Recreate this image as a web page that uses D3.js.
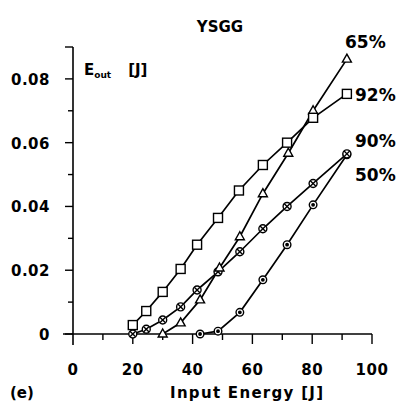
<!DOCTYPE html>
<html><head><meta charset="utf-8">
<script src="https://cdn.jsdelivr.net/npm/d3@7"></script>
<style>
html,body{margin:0;padding:0;background:#fff;}
svg{display:block;}
text{font-family:"DejaVu Sans",sans-serif;font-weight:bold;fill:#000;}
</style></head>
<body>
<script>
const x92 = [20, 24.5, 30, 36, 41.5, 48.5, 55.5, 63.5, 71.6, 80.3, 91.6];
const y92 = [0.0028, 0.0072, 0.0132, 0.0204, 0.028, 0.0364, 0.045, 0.053, 0.060, 0.0678, 0.0753];
const x65 = [30, 36, 42.5, 49, 55.8, 63.5, 72, 80.3, 91.6];
const y65 = [0, 0.0035, 0.0107, 0.0207, 0.0305, 0.044, 0.0567, 0.070, 0.0862];
const x90 = [20, 24.5, 30, 36, 41.5, 48.5, 55.8, 63.5, 71.6, 80.3, 91.6];
const y90 = [0, 0.0015, 0.0044, 0.0085, 0.0138, 0.0195, 0.0258, 0.033, 0.040, 0.0472, 0.0565];
const x50 = [42.5, 48.5, 55.8, 63.5, 71.6, 80.3, 91.6];
const y50 = [0, 0.0009, 0.0068, 0.017, 0.028, 0.0405, 0.0562];
const seriesNames = ["65%", "92%", "90%", "50%"];
const xTicks = [0, 20, 40, 60, 80, 100];
const yTicks = [0, 0.02, 0.04, 0.06, 0.08];
const yTickLabels = ["0", "0.02", "0.04", "0.06", "0.08"];

const W = 400, H = 405;
const svg = d3.select("body").append("svg").attr("width", W).attr("height", H);
const x = d3.scaleLinear().domain([0, 100]).range([73, 372]);
const y = d3.scaleLinear().domain([0, 0.09]).range([334, 47]);

// Y axis
svg.append("line").attr("x1", x(0)).attr("x2", x(0)).attr("y1", y(0.09)).attr("y2", y(0) + 11)
  .attr("stroke", "#000").attr("stroke-width", 1.6);
d3.range(0, 10).forEach(i => {
  const v = i * 0.01;
  const major = i % 2 === 0 || i === 9;
  svg.append("line").attr("x1", x(0) - (major ? 8 : 5)).attr("x2", x(0))
    .attr("y1", y(v)).attr("y2", y(v)).attr("stroke", "#000").attr("stroke-width", 1.4);
});
yTicks.forEach((v, i) => {
  svg.append("text").attr("x", 50).attr("y", y(v) + 6).attr("text-anchor", "end")
    .attr("font-size", 15).attr("letter-spacing", 0.5).text(yTickLabels[i]);
});

// X axis
svg.append("line").attr("x1", x(0) - 10).attr("x2", x(100)).attr("y1", y(0)).attr("y2", y(0))
  .attr("stroke", "#000").attr("stroke-width", 1.6);
d3.range(1, 11).forEach(i => {
  const v = i * 10;
  const major = i % 2 === 0;
  svg.append("line").attr("x1", x(v)).attr("x2", x(v))
    .attr("y1", y(0)).attr("y2", y(0) + (major ? 10 : 6)).attr("stroke", "#000").attr("stroke-width", 1.4);
});
xTicks.forEach(v => {
  svg.append("text").attr("x", x(v)).attr("y", 375).attr("text-anchor", "middle")
    .attr("font-size", 15).attr("letter-spacing", 0.5).text(v);
});

// Labels
svg.append("text").attr("x", 220).attr("y", 32).attr("text-anchor", "middle").attr("font-size", 15).text("YSGG");
const eo = svg.append("text").attr("x", 84).attr("y", 75).attr("font-size", 15);
eo.append("tspan").text("E");
eo.append("tspan").attr("font-size", 9).attr("dy", 3).text("out");
eo.append("tspan").attr("dy", -3).attr("dx", 17).text("[J]");
svg.append("text").attr("x", 170).attr("y", 398).attr("font-size", 15).attr("letter-spacing", 1.3).text("Input Energy  [J]");
svg.append("text").attr("x", 10).attr("y", 398).attr("font-size", 15).text("(e)");

const line = d3.line().x(d => x(d[0])).y(d => y(d[1]));
const zip = (a, b) => a.map((v, i) => [v, b[i]]);
const d92 = zip(x92, y92), d65 = zip(x65, y65), d90 = zip(x90, y90), d50 = zip(x50, y50);
[d92, d65, d90, d50].forEach(d => {
  svg.append("path").datum(d).attr("d", line).attr("fill", "none").attr("stroke", "#000").attr("stroke-width", 1.7);
});

// markers
const g = svg.append("g").attr("stroke", "#000").attr("stroke-width", 1.4);
d50.forEach(p => {
  g.append("circle").attr("cx", x(p[0])).attr("cy", y(p[1])).attr("r", 3.8).attr("fill", "#fff");
  g.append("circle").attr("cx", x(p[0])).attr("cy", y(p[1])).attr("r", 1.2).attr("fill", "#000");
});
d90.forEach(p => {
  const cx = x(p[0]), cy = y(p[1]);
  g.append("circle").attr("cx", cx).attr("cy", cy).attr("r", 4).attr("fill", "#fff");
  g.append("path").attr("d", `M${cx-2.8},${cy-2.8}L${cx+2.8},${cy+2.8}M${cx-2.8},${cy+2.8}L${cx+2.8},${cy-2.8}`);
});
d65.forEach(p => {
  const cx = x(p[0]), cy = y(p[1]);
  g.append("path").attr("d", `M${cx},${cy-5}L${cx+4.5},${cy+3}L${cx-4.5},${cy+3}Z`).attr("fill", "#fff");
});
d92.forEach(p => {
  g.append("rect").attr("x", x(p[0]) - 4.5).attr("y", y(p[1]) - 4.5).attr("width", 9).attr("height", 9).attr("fill", "#fff");
});

// series labels
const labelPos = [[345, 48], [355, 101], [355, 147], [355, 181]];
seriesNames.forEach((n, i) => {
  svg.append("text").attr("x", labelPos[i][0]).attr("y", labelPos[i][1]).attr("font-size", 17).text(n);
});
</script>
</body></html>
